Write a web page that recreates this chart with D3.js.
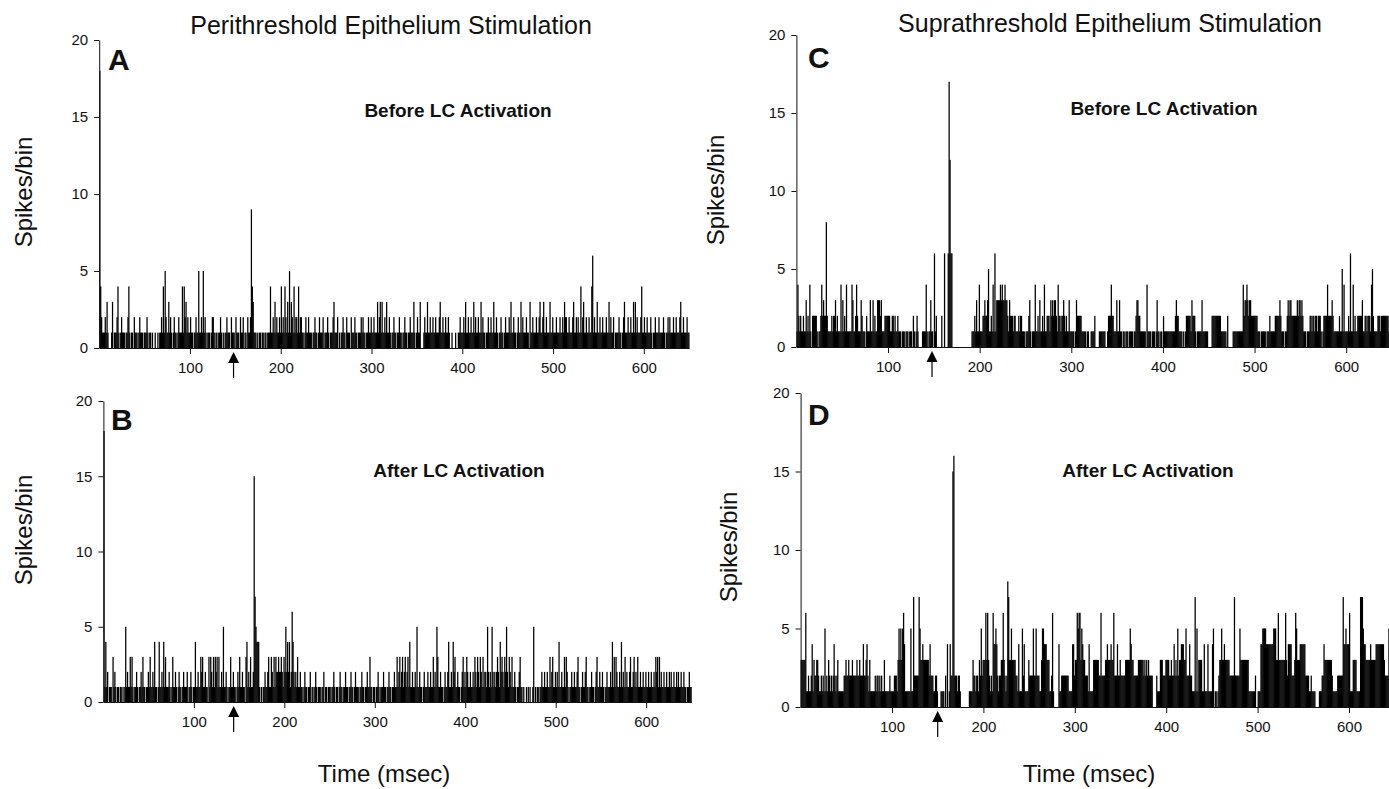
<!DOCTYPE html>
<html><head><meta charset="utf-8">
<script src="https://cdn.jsdelivr.net/npm/d3@7"></script>
<style>
body{margin:0;background:#fff;}
svg{display:block;}
text{font-family:"Liberation Sans",Arial,Helvetica,sans-serif;fill:#111;}
</style></head><body>
<svg id="chart" width="1389" height="789"></svg>
<script>
// Spike counts per 1-ms bin, 0..649 ms
const countsA = [
18,4,2,1,1,1,2,1,3,1, 0,0,0,1,3,0,1,1,1,2, 4,1,0,1,2,1,1,1,0,1, 1,2,4,1,0,1,1,0,2,1,
1,1,0,1,2,1,1,1,0,1, 1,1,2,1,0,1,1,0,1,0, 0,1,0,0,1,0,1,1,2,1, 4,1,5,2,1,1,3,1,2,1,
0,1,2,1,1,0,1,2,1,1, 1,4,1,4,2,3,1,2,1,1, 2,1,1,0,1,1,2,1,1,5, 1,1,2,1,5,1,2,1,0,1,
1,1,0,1,2,2,1,0,1,1, 0,1,1,2,1,0,1,0,1,1, 2,1,1,1,0,2,1,1,1,0, 2,1,1,1,0,2,1,1,2,0,
1,1,0,2,1,1,2,9,4,3, 1,1,1,0,1,0,1,1,0,1, 1,0,1,1,0,1,1,1,4,1, 1,2,1,3,1,2,1,1,2,1,
4,1,2,1,4,2,1,3,1,5, 1,3,2,1,4,1,2,2,1,4, 1,2,2,1,1,0,1,2,1,1, 2,1,1,1,0,1,1,2,1,1,
0,1,2,1,1,1,2,0,1,1, 1,2,1,0,1,1,1,2,3,1, 1,1,2,0,1,0,1,1,2,1, 1,0,2,1,1,1,0,2,1,1,
1,2,1,1,0,1,1,1,2,1, 2,1,1,0,1,1,2,1,1,2, 1,1,2,1,1,1,3,1,2,3, 1,3,1,1,2,1,3,1,1,2,
1,0,1,1,2,1,1,0,1,1, 2,1,1,0,1,1,2,1,1,0, 1,1,2,1,1,1,3,1,0,1, 2,1,1,3,0,0,0,1,2,1,
1,3,1,1,2,1,1,2,1,1, 2,1,1,1,2,3,1,1,2,1, 1,2,1,1,2,1,0,0,1,0, 0,0,1,0,0,1,1,2,1,1,
1,2,1,3,1,1,2,1,1,2, 1,1,3,1,2,1,1,2,1,1, 3,1,2,1,1,0,1,1,2,1, 1,2,1,1,3,1,1,2,1,0,
1,1,2,1,1,0,1,2,1,1, 1,2,1,3,1,1,2,1,1,0, 1,2,1,1,3,1,2,1,1,1, 2,1,1,0,3,1,1,2,1,1,
1,2,1,1,2,3,1,1,2,3, 1,1,2,1,1,1,3,1,1,2, 1,1,1,2,1,1,1,2,1,1, 2,1,3,2,2,1,1,2,1,1,
1,2,3,1,1,2,1,2,1,1, 4,1,2,3,1,1,2,1,1,2, 1,1,4,6,1,2,1,1,3,1, 1,2,1,1,2,1,1,1,2,1,
1,3,1,2,1,1,2,0,1,1, 1,1,2,1,1,0,1,2,3,1, 1,1,2,1,1,2,1,1,3,1, 3,1,2,1,1,1,2,4,1,1,
2,1,1,2,1,1,1,2,1,0, 1,1,2,1,1,1,2,1,1,1, 1,2,1,0,1,1,2,1,2,1, 1,1,2,1,1,2,1,1,1,2,
3,1,1,2,1,1,1,2,1,1
];
const countsB = [
18,1,4,1,2,0,1,1,1,0, 3,1,2,1,0,1,1,0,1,1, 0,1,0,1,5,1,2,1,1,3, 1,3,1,0,1,1,2,1,0,1,
1,2,1,3,1,1,0,1,1,2, 1,3,1,1,2,1,4,1,1,0, 1,4,1,1,2,1,4,1,3,1, 1,1,2,1,0,1,3,1,1,2,
1,0,1,2,1,1,0,1,2,1, 1,1,2,0,1,1,2,1,0,1, 1,4,1,1,2,1,1,3,2,3, 1,1,2,1,1,0,3,1,3,2,
1,3,1,3,2,3,1,3,1,1, 2,1,5,1,1,2,1,0,1,1, 3,1,1,2,1,1,0,1,2,1, 3,1,1,2,1,1,0,3,4,1,
2,1,3,1,1,2,15,7,5,4, 4,4,1,0,1,0,1,1,2,1, 1,2,3,1,1,3,2,1,3,1, 3,2,2,3,2,2,3,2,1,3,
2,5,2,4,2,4,1,2,6,4, 2,1,2,1,3,1,1,2,1,1, 0,1,2,1,1,0,1,1,2,0, 1,1,0,1,2,1,0,1,1,1,
0,1,1,2,0,1,1,0,1,1, 1,0,1,1,2,1,0,1,1,0, 1,2,1,1,0,1,1,2,1,1, 0,1,1,2,1,1,0,1,2,1,
1,1,0,1,1,2,1,1,0,1, 1,2,1,1,3,1,1,0,1,1, 0,1,1,2,1,0,1,1,1,2, 1,1,0,1,1,2,1,1,0,1,
1,2,1,1,3,1,2,3,1,2, 3,1,2,3,1,2,3,1,4,1, 1,2,1,1,2,1,5,1,1,2, 1,1,0,1,2,1,1,1,2,1,
1,2,1,1,3,1,2,1,5,3, 1,1,2,1,1,0,1,2,1,1, 2,4,1,1,2,1,4,2,3,1, 1,2,1,1,0,1,2,3,1,2,
1,3,2,1,1,2,1,1,2,1, 3,2,1,3,2,1,3,2,1,3, 1,2,2,1,5,2,1,2,1,5, 2,1,2,1,2,3,2,1,4,2,
3,2,1,3,2,5,2,1,3,2, 1,3,1,1,2,1,0,1,1,2, 3,1,1,0,1,0,0,1,0,1, 0,1,0,0,1,5,0,1,0,1,
1,0,1,1,2,1,1,2,1,1, 2,1,1,3,1,2,3,1,1,2, 1,2,1,4,1,1,2,1,1,3, 1,3,2,1,0,1,1,2,1,1,
2,1,1,2,3,1,1,0,1,2, 1,1,2,3,1,1,0,1,1,2, 1,1,0,1,2,3,1,1,2,1, 1,2,1,0,1,1,2,1,1,1,
2,1,4,1,3,1,3,2,1,1, 2,1,4,1,2,1,3,1,2,1, 1,2,3,1,1,2,3,1,2,1, 3,1,1,2,1,1,2,1,1,2,
1,1,2,1,1,2,1,1,2,1, 3,2,3,1,3,1,2,1,1,2, 1,1,2,1,1,2,1,2,1,1, 2,1,1,2,1,2,1,1,2,1,
1,2,1,1,0,1,1,2,1,1
];
const countsC = [
1,4,2,1,2,1,1,2,1,1, 3,1,2,1,4,1,0,2,2,2, 2,2,1,0,1,1,2,4,2,3, 2,2,8,2,1,1,1,1,2,1,
2,2,3,1,2,1,1,1,4,1, 3,1,2,1,4,1,1,1,1,1, 4,3,1,1,2,4,2,1,1,1, 3,2,1,1,1,0,2,1,1,1,
3,1,1,3,1,2,1,1,3,3, 3,2,3,1,1,1,2,2,2,2, 2,2,1,1,2,2,1,2,1,1, 2,1,1,1,0,1,1,1,0,1,
1,1,0,1,1,1,0,2,1,0, 1,2,1,0,0,0,0,1,1,1, 1,4,1,0,1,1,3,1,1,0, 6,1,2,0,0,0,0,0,2,0,
0,6,0,0,0,6,17,12,6,6, 0,0,0,0,0,0,0,0,0,0, 0,0,0,0,0,0,0,0,0,0, 0,1,1,1,2,1,3,1,1,4,
1,1,1,2,2,3,2,2,3,5, 1,1,2,1,4,1,6,1,3,3, 3,3,4,3,4,3,3,4,3,3, 2,1,3,2,2,2,1,2,2,1,
1,1,2,1,2,2,1,1,1,0, 1,1,1,2,3,1,0,1,1,1, 4,1,1,2,1,3,1,1,2,1, 4,1,1,2,2,2,1,3,2,3,
2,3,3,2,1,4,2,2,1,2, 2,3,2,1,2,1,1,3,1,1, 1,1,1,0,1,3,2,2,2,2, 2,1,1,1,1,1,0,1,1,0,
0,1,1,1,1,2,0,0,0,0, 1,1,1,1,1,1,1,0,0,1, 2,2,2,4,2,2,1,1,1,3, 1,1,3,1,1,0,1,1,0,1,
1,1,0,1,1,1,1,0,1,1, 2,3,3,2,2,1,1,1,1,1, 1,0,4,1,1,1,1,0,1,1, 1,0,1,3,1,1,0,1,1,0,
2,1,1,1,1,1,1,1,1,1, 1,1,1,2,3,2,2,1,1,1, 1,0,1,0,1,2,2,2,2,2, 1,3,2,2,2,1,0,1,1,1,
1,1,3,1,1,1,1,1,1,0, 0,0,0,2,2,2,2,2,2,2, 2,2,2,1,1,1,1,1,1,0, 2,0,0,0,0,0,1,1,1,1,
1,1,1,1,1,1,1,4,2,3, 3,4,3,2,3,3,2,2,2,2, 2,2,2,1,1,1,0,1,1,1, 1,1,0,1,1,1,2,1,1,1,
1,1,2,2,2,2,2,3,2,1, 1,1,0,1,1,2,3,2,3,3, 2,2,2,2,2,2,3,2,3,3, 2,3,2,1,1,1,0,1,1,1,
2,2,1,2,2,1,2,2,1,2, 2,2,1,0,1,2,2,2,2,4, 2,2,2,2,3,2,1,1,1,1, 1,1,2,1,1,5,1,4,1,1,
1,1,2,1,6,1,1,4,1,2, 1,1,2,2,2,2,2,3,1,1, 2,2,1,2,2,2,1,4,5,2, 1,1,1,1,2,2,2,1,2,2,
2,2,2,2,2,2,1,2,2,1
];
const countsD = [
3,3,3,3,3,6,1,1,2,1, 1,2,4,1,3,2,2,3,3,2, 1,1,2,1,2,1,5,1,2,1, 3,2,1,2,1,2,4,2,1,2,
3,1,1,1,1,1,1,2,2,3, 2,2,3,2,2,2,3,2,2,2, 2,3,2,2,3,2,2,2,4,2, 2,3,4,2,1,3,1,1,1,1,
1,2,1,2,2,1,2,1,2,1, 1,3,1,1,1,1,1,2,1,1, 1,1,2,2,2,1,3,5,3,5, 3,5,6,4,1,1,1,1,1,1,
5,1,1,7,2,2,2,2,2,7, 5,3,3,4,3,3,3,3,3,3, 2,4,2,2,2,1,1,2,2,1, 0,0,0,1,1,1,1,0,2,0,
4,0,1,4,2,2,15,16,2,2, 2,1,2,2,1,0,0,0,0,0, 0,0,0,0,1,1,1,1,3,2, 2,1,2,2,1,3,2,5,2,3,
3,3,6,3,6,3,2,1,2,1, 6,4,4,5,4,2,1,2,2,3, 3,6,3,2,1,2,8,7,3,3, 5,3,3,3,3,2,2,1,4,1,
1,1,5,2,4,1,1,1,1,3, 2,2,2,2,5,2,2,5,2,2, 2,1,1,3,5,5,4,4,4,3, 3,3,1,1,2,6,1,0,0,0,
0,0,4,1,1,2,2,2,2,2, 2,2,2,1,1,1,1,4,4,2, 3,3,6,5,6,6,3,5,4,3, 3,2,2,2,1,4,1,1,1,1,
3,3,3,3,3,3,2,2,6,2, 2,2,2,3,3,4,3,3,3,4, 3,3,6,2,2,2,4,2,2,3, 2,2,2,2,2,3,3,3,3,3,
5,4,3,3,2,2,2,2,2,3, 3,3,3,3,3,2,3,2,3,2, 3,2,2,2,2,0,0,0,0,2, 1,1,1,3,3,3,2,2,2,3,
3,3,3,2,2,3,2,2,4,2, 3,2,5,2,3,3,4,4,4,3, 3,5,2,2,2,4,2,2,1,1, 1,7,1,5,1,3,3,3,3,1,
1,4,1,1,1,4,1,1,1,1, 4,5,0,1,1,0,1,2,3,3, 5,3,3,4,3,3,3,3,3,2, 2,2,2,2,7,2,2,2,2,2,
5,3,3,3,3,3,3,3,3,3, 1,1,1,1,1,1,1,2,0,0, 1,1,1,4,4,5,5,5,5,4, 4,4,4,4,4,4,4,5,5,5,
3,3,6,3,3,3,3,3,3,3, 6,3,2,4,4,4,4,2,2,2, 3,6,5,3,3,3,4,4,4,4, 4,4,2,2,2,2,1,1,2,1,
1,1,1,0,0,0,0,1,1,1, 2,2,4,3,3,3,3,3,3,3, 3,2,1,1,1,1,1,2,2,2, 2,2,2,7,4,4,5,4,4,4,
6,1,1,1,3,3,3,3,1,1, 1,1,7,7,7,5,4,4,3,3, 3,3,3,4,3,3,3,3,3,4, 4,4,4,4,4,4,4,4,3,2,
2,2,2,5,2,2,2,2,2,2
];

const yTicks = [0, 5, 10, 15, 20];
const xTicks = [100, 200, 300, 400, 500, 600];
const panelLetters = ["A", "B", "C", "D"];
const conditionLabels = ["Before LC Activation", "After LC Activation", "Before LC Activation", "After LC Activation"];
const columnTitles = ["Perithreshold Epithelium Stimulation", "Suprathreshold Epithelium Stimulation"];
const stimulusMs = [148, 144, 148, 150];
const yLabel = "Spikes/bin";
const xLabel = "Time (msec)";

const svg = d3.select("#chart");

// panel geometry (pixels)
const geo = [
  {counts: countsA, x0: 99.2, x1: 689.2, y0: 348, y1: 40,  letterX: 108, letterY: 70,  condX: 458, condY: 117, ylX: 24,  ylY: 192},
  {counts: countsB, x0: 103.4, x1: 691.4, y0: 702, y1: 401, letterX: 111, letterY: 430, condX: 459, condY: 477, ylX: 24,  ylY: 530},
  {counts: countsC, x0: 796.4, x1: 1392, y0: 347, y1: 35,  letterX: 808, letterY: 68,  condX: 1164, condY: 115, ylX: 716, ylY: 190},
  {counts: countsD, x0: 800.6, x1: 1394.7, y0: 707, y1: 393, letterX: 808, letterY: 425, condX: 1148, condY: 477, ylX: 729, ylY: 547}
];

geo.forEach((p, k) => {
  const x = d3.scaleLinear().domain([0, 650]).range([p.x0, p.x1]);
  const y = d3.scaleLinear().domain([0, 20]).range([p.y0, p.y1]);
  const g = svg.append("g");
  const bw = x(1) - x(0);

  g.append("g").selectAll("rect")
    .data(p.counts.map((v, i) => ({i, v})).filter(d => d.v > 0))
    .join("rect")
    .attr("x", d => x(d.i))
    .attr("width", bw + 0.35)
    .attr("y", d => y(d.v))
    .attr("height", d => y(0) - y(d.v))
    .attr("fill", "#000");

  const ya = d3.axisLeft(y).tickValues(yTicks).tickSize(5).tickSizeOuter(0).tickPadding(6);
  const yg = g.append("g").attr("transform", `translate(${x(0)},0)`).call(ya);
  yg.selectAll("text").style("font-size", "15px");
  yg.selectAll("line,path").attr("stroke", "#111");

  const xa = d3.axisBottom(x).tickValues(xTicks).tickSize(6).tickSizeOuter(0).tickPadding(8);
  const xg = g.append("g").attr("transform", `translate(0,${y(0)})`).call(xa);
  xg.selectAll("text").style("font-size", "15px");
  xg.selectAll("line,path").attr("stroke", "#111");

  // stimulus arrow
  const ax = x(stimulusMs[k]), ay = y(0);
  g.append("path")
    .attr("d", `M${ax},${ay + 4} L${ax - 5.5},${ay + 15} L${ax + 5.5},${ay + 15} Z`)
    .attr("fill", "#000");
  g.append("line")
    .attr("x1", ax).attr("x2", ax).attr("y1", ay + 14).attr("y2", ay + 30)
    .attr("stroke", "#000").attr("stroke-width", 1.2);

  g.append("text").attr("x", p.letterX).attr("y", p.letterY)
    .style("font-size", "30px").style("font-weight", "bold").text(panelLetters[k]);
  g.append("text").attr("x", p.condX).attr("y", p.condY).attr("text-anchor", "middle")
    .style("font-size", "19px").style("font-weight", "bold").text(conditionLabels[k]);
  g.append("text").attr("transform", `translate(${p.ylX},${p.ylY}) rotate(-90)`)
    .attr("text-anchor", "middle").attr("dy", "0.35em")
    .style("font-size", "24px").text(yLabel);
});

svg.append("text").attr("x", 391).attr("y", 34).attr("text-anchor", "middle")
  .style("font-size", "25px").text(columnTitles[0]);
svg.append("text").attr("x", 1110).attr("y", 32).attr("text-anchor", "middle")
  .style("font-size", "25px").text(columnTitles[1]);
svg.append("text").attr("x", 384).attr("y", 782).attr("text-anchor", "middle")
  .style("font-size", "24px").text(xLabel);
svg.append("text").attr("x", 1089).attr("y", 782).attr("text-anchor", "middle")
  .style("font-size", "24px").text(xLabel);
</script>
</body></html>
